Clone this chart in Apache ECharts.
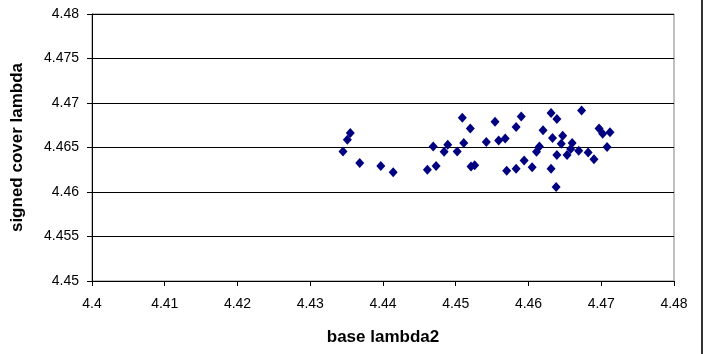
<!DOCTYPE html>
<html>
<head>
<meta charset="utf-8">
<script src="https://cdn.jsdelivr.net/npm/echarts@6/dist/echarts.min.js"></script>
<style>
  html, body { margin: 0; padding: 0; background: #fff; }
  #chart { width: 707px; height: 354px; }
</style>
</head>
<body>
<div id="chart"></div>
<script>
// base lambda2 values
const baseLambda2 = [
  4.4345, 4.4351, 4.4355, 4.4368, 4.4397, 4.4414, 4.4461, 4.4473, 4.4469, 4.4484,
  4.4489, 4.4502, 4.4509, 4.4511, 4.4520, 4.4521, 4.4526, 4.4542, 4.4554, 4.4559,
  4.4568, 4.4570, 4.4583, 4.4583, 4.4590, 4.4594, 4.4605, 4.4611, 4.4615, 4.4620,
  4.4631, 4.4633, 4.4631, 4.4639, 4.4639, 4.4638, 4.4647, 4.4645, 4.4653, 4.4658,
  4.4660, 4.4673, 4.4669, 4.4682, 4.4690, 4.4697, 4.4702, 4.4712, 4.4708
];
// signed cover lambda values
const signedCoverLambda = [
  4.46456, 4.46587, 4.46663, 4.46326, 4.46293, 4.46221, 4.46251, 4.46293, 4.46512, 4.46453,
  4.46531, 4.46456, 4.46834, 4.46550, 4.46714, 4.46286, 4.46300, 4.46562, 4.46789, 4.46580,
  4.46602, 4.46240, 4.46262, 4.46730, 4.46849, 4.46355, 4.46277, 4.46453, 4.46512, 4.46695,
  4.46887, 4.46606, 4.46262, 4.46820, 4.46416, 4.46057, 4.46632, 4.46543, 4.46416, 4.46483,
  4.46550, 4.46916, 4.46464, 4.46445, 4.46367, 4.46714, 4.46655, 4.46670, 4.46505
];
const xTicks = { min: 4.40, max: 4.48, step: 0.01 };
const yTicks = { min: 4.45, max: 4.48, step: 0.005 };

const points = baseLambda2.map((x, i) => [x, signedCoverLambda[i]]);
const font = 'Liberation Sans, Arial, sans-serif';

const chart = echarts.init(document.getElementById('chart'));
chart.setOption({
  animation: false,
  backgroundColor: '#ffffff',
  grid: {
    left: 92, right: 33, top: 14, bottom: 73,
    show: true, borderColor: '#808080', borderWidth: 1, backgroundColor: '#ffffff'
  },
  xAxis: {
    type: 'value',
    min: xTicks.min, max: xTicks.max, interval: xTicks.step,
    name: 'base lambda2',
    nameLocation: 'middle',
    nameGap: 48,
    nameTextStyle: { fontFamily: font, fontWeight: 'bold', fontSize: 17, color: '#000' },
    axisLine: { show: true, onZero: false, lineStyle: { color: '#000', width: 1 } },
    axisTick: { show: true, inside: false, length: 5, lineStyle: { color: '#000' } },
    axisLabel: {
      fontFamily: font, fontSize: 14, color: '#000', margin: 16,
      formatter: v => String(parseFloat(v.toFixed(3)))
    },
    splitLine: { show: false }
  },
  yAxis: {
    type: 'value',
    min: yTicks.min, max: yTicks.max, interval: yTicks.step,
    name: 'signed cover lambda',
    nameLocation: 'middle',
    nameGap: 66,
    nameRotate: 90,
    nameTextStyle: { fontFamily: font, fontWeight: 'bold', fontSize: 17, color: '#000' },
    axisLine: { show: true, onZero: false, lineStyle: { color: '#000', width: 1 } },
    axisTick: { show: true, inside: false, length: 5, lineStyle: { color: '#000' } },
    axisLabel: {
      fontFamily: font, fontSize: 14, color: '#000', margin: 13,
      formatter: v => String(parseFloat(v.toFixed(4)))
    },
    splitLine: { show: true, lineStyle: { color: '#000', width: 1 } }
  },
  series: [{
    type: 'scatter',
    data: points,
    symbol: 'diamond',
    symbolSize: [9, 10],
    itemStyle: { color: '#000080', opacity: 1 }
  }],
  graphic: [{
    type: 'rect',
    shape: { x: 701, y: 0, width: 2, height: 354 },
    style: { fill: '#333333' }
  }]
});
</script>
</body>
</html>
